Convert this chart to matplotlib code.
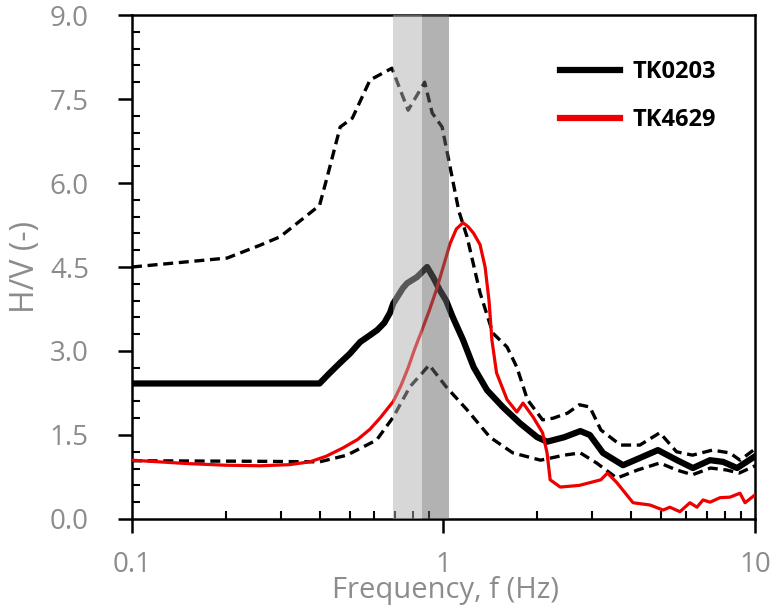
import matplotlib
matplotlib.use("Agg")
import matplotlib.pyplot as plt
from matplotlib.ticker import FixedLocator, NullFormatter, MultipleLocator, FormatStrFormatter

# ---- data ----
f_mean = [0.1, 0.40, 0.43, 0.466, 0.50, 0.54, 0.58, 0.613, 0.645, 0.673, 0.69, 0.74, 0.764, 0.822,
          0.886, 0.93, 0.97, 1.02, 1.07, 1.155, 1.25, 1.38, 1.55, 1.76, 2.0, 2.15, 2.44, 2.75,
          2.95, 3.25, 3.77, 4.27, 4.88, 5.62, 6.32, 7.17, 7.9, 8.76, 10.0]
v_mean = [2.42, 2.42, 2.6, 2.79, 2.95, 3.16, 3.28, 3.375, 3.5, 3.68, 3.85, 4.12, 4.21, 4.32,
          4.5, 4.3, 4.1, 3.9, 3.61, 3.2, 2.71, 2.3, 2.0, 1.71, 1.46, 1.38, 1.46, 1.57,
          1.5, 1.18, 0.96, 1.09, 1.23, 1.05, 0.91, 1.05, 1.02, 0.91, 1.12]

f_upper = [0.1, 0.202, 0.258, 0.299, 0.40, 0.423, 0.466, 0.51, 0.581, 0.683, 0.77, 0.87, 0.92,
           0.99, 1.12, 1.19, 1.31, 1.44, 1.6, 1.72, 1.86, 2.08, 2.25, 2.5, 2.73, 2.95, 3.2,
           3.7, 4.27, 4.95, 5.6, 6.3, 7.3, 8.3, 8.95, 10.0]
v_upper = [4.5, 4.66, 4.89, 5.04, 5.6, 6.1, 7.0, 7.16, 7.84, 8.05, 7.3, 7.8, 7.25,
           7.0, 5.5, 5.04, 4.04, 3.32, 3.07, 2.71, 2.13, 1.77, 1.8, 1.89, 2.04, 2.0, 1.59,
           1.32, 1.32, 1.54, 1.2, 1.14, 1.23, 1.18, 1.05, 1.25]

f_lower = [0.1, 0.258, 0.40, 0.49, 0.61, 0.69, 0.78, 0.9, 1.02, 1.19, 1.41, 1.67, 2.05, 2.44,
           2.75, 3.1, 3.6, 4.2, 4.95, 5.6, 6.3, 7.2, 8.1, 8.9, 10.0]
v_lower = [1.04, 1.03, 1.02, 1.14, 1.41, 1.82, 2.36, 2.75, 2.36, 1.95, 1.46, 1.18, 1.05, 1.14,
           1.18, 1.0, 0.73, 0.875, 1.0, 0.875, 0.79, 0.91, 0.875, 0.82, 0.95]

f_red = [0.1, 0.15, 0.2, 0.258, 0.32, 0.372, 0.42, 0.476, 0.53, 0.58, 0.625, 0.69, 0.73, 0.77,
         0.81, 0.85, 0.90, 0.95, 1.0, 1.05, 1.1, 1.155, 1.2, 1.25, 1.31, 1.36, 1.40, 1.43,
         1.48, 1.6, 1.72, 1.8, 1.94, 2.08, 2.15, 2.2, 2.37, 2.73, 3.2, 3.36, 3.6, 4.06, 4.6,
         5.07, 5.33, 5.74, 6.18, 6.51, 6.81, 7.17, 7.72, 8.31, 8.95, 9.29, 10.0]
v_red = [1.05, 0.99, 0.96, 0.95, 0.97, 1.02, 1.12, 1.27, 1.42, 1.6, 1.8, 2.1, 2.38, 2.7,
         3.05, 3.35, 3.72, 4.1, 4.52, 4.92, 5.18, 5.29, 5.22, 5.1, 4.9, 4.5, 3.9, 3.2,
         2.61, 2.13, 1.91, 2.07, 1.82, 1.54, 1.18, 0.7, 0.57, 0.6, 0.7, 0.82, 0.65, 0.29, 0.25,
         0.16, 0.21, 0.13, 0.29, 0.21, 0.34, 0.3, 0.38, 0.39, 0.46, 0.29, 0.43]

band_light = (0.69, 0.853)
band_dark = (0.853, 1.04)
labels = ["TK0203", "TK4629"]

# ---- figure ----
plt.rcParams['font.family'] = ['Open Sans', 'DejaVu Sans']
fig = plt.figure(figsize=(7.75, 6.06), dpi=100)
ax = fig.add_axes([0.1703, 0.1436, 0.8039, 0.8316])

dash = (0, (3.0, 1.7))
ax.plot(f_upper, v_upper, color='black', lw=2.4, ls=dash, zorder=2)
ax.plot(f_lower, v_lower, color='black', lw=2.4, ls=dash, zorder=2)
ax.plot(f_mean, v_mean, color='black', lw=4.5, zorder=3, label=labels[0],
        solid_joinstyle='round')
ax.plot(f_red, v_red, color='#ee0000', lw=2.3, zorder=3, label=labels[1],
        solid_joinstyle='round')

ax.axvspan(*band_light, color='#b0b0b0', alpha=0.5, lw=0, zorder=4)
ax.axvspan(*band_dark, color='#666666', alpha=0.5, lw=0, zorder=4)

ax.set_xscale('log')
ax.set_xlim(0.1, 10)
ax.set_ylim(0, 9)

ax.xaxis.set_major_locator(FixedLocator([0.1, 1, 10]))
ax.set_xticklabels(['0.1', '1', '10'])
minors = [m * d for d in (0.1, 1) for m in range(2, 10)]
ax.xaxis.set_minor_locator(FixedLocator(minors))
ax.xaxis.set_minor_formatter(NullFormatter())
ax.yaxis.set_major_locator(MultipleLocator(1.5))
ax.yaxis.set_minor_locator(MultipleLocator(0.3))
ax.yaxis.set_major_formatter(FormatStrFormatter('%.1f'))

ax.tick_params(which='major', direction='out', length=10, width=1.8, labelsize=20,
               labelcolor='#8c8c8c')
ax.tick_params(axis='x', which='major', pad=13)
ax.tick_params(axis='y', which='major', pad=21)
ax.tick_params(which='minor', direction='in', length=6, width=1.5)
ax.tick_params(top=False, right=False, which='both')

for s in ax.spines.values():
    s.set_linewidth(1.8)

ax.set_xlabel('Frequency, f (Hz)', fontsize=21, color='#8c8c8c')
ax.set_ylabel('H/V (-)', fontsize=23, color='#8c8c8c')
ax.xaxis.set_label_coords(0.504, -0.114)
ax.yaxis.set_label_coords(-0.1445, 0.5)

leg = ax.legend(loc='upper right', bbox_to_anchor=(0.972, 0.952), frameon=False,
                handlelength=2.55, handletextpad=0.55, labelspacing=1.0,
                prop={'family': 'Open Sans', 'weight': 'bold', 'size': 17})
for h in leg.legend_handles:
    h.set_linewidth(4.5)

fig.savefig('out.png', dpi=100)
